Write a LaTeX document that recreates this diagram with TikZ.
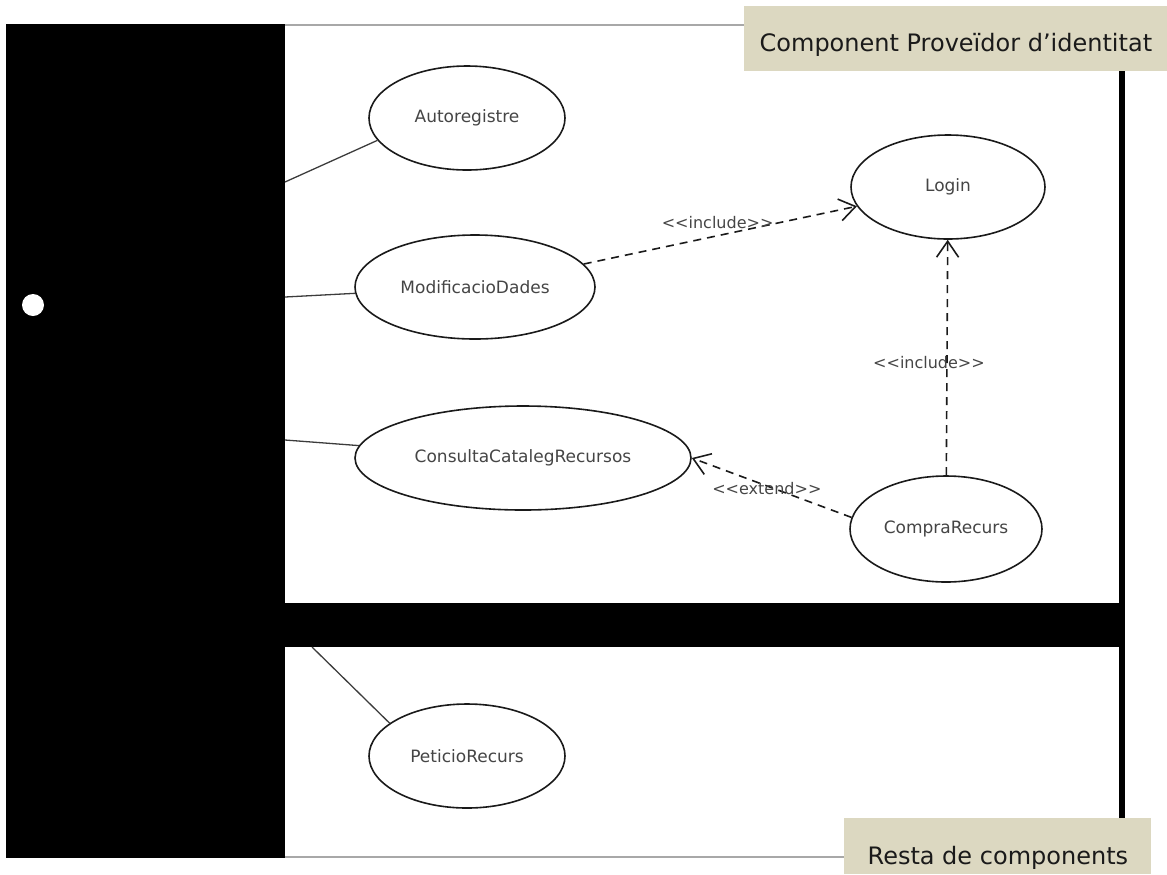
\documentclass[tikz,border=0pt]{standalone}
\usepackage{fontspec}
\usepackage{tikz}
\usetikzlibrary{arrows.meta,positioning,shapes}
\newfontfamily\dvfont{DejaVu Sans}
\definecolor{ink}{HTML}{1A1A1A}
\definecolor{inkgray}{HTML}{454545}
\definecolor{edgegray}{HTML}{A8A8A8}
\definecolor{tagbg}{HTML}{DCD8C1}
\tikzset{
  usecase/.style={ellipse,draw=ink,line width=0.8pt,fill=white,
                  minimum height=52pt,inner sep=0pt,
                  font=\dvfont\fontsize{8.5}{10}\selectfont,text=inkgray},
  assoc/.style={line width=0.65pt,color=ink!85},
  incl/.style={-{Straight Barb[length=8pt,width=11pt]},line width=0.8pt,
               dash pattern=on 4pt off 3pt,color=ink},
  stereo/.style={font=\dvfont\fontsize{8}{10}\selectfont,text=inkgray,inner sep=0pt},
  tagbox/.style={fill=tagbg,inner xsep=0pt,inner ysep=0pt,
                 font=\dvfont\fontsize{12}{14}\selectfont,text=ink}
}

\begin{document}
\begin{tikzpicture}[x=0.5pt,y=-0.5pt]
  \useasboundingbox (0,0) rectangle (1167,874);
  \fill[black] (6,24) rectangle (285,858);
  \fill[black] (285,603) rectangle (1125,647);
  \fill[black] (1119,71) rectangle (1125,818);
  \draw[edgegray,line width=0.6pt] (285,25) -- (744,25);
  \draw[edgegray,line width=0.6pt] (285,857) -- (844,857);
  \fill[white] (33,305) circle (5.5pt);

  \node[usecase,minimum width=98pt] (auto) at (467,118) {Autoregistre};
  \node[usecase,minimum width=97pt] (login) at (948,187) {Login};
  \node[usecase,minimum width=120pt] (modif) at (475,287) {ModificacioDades};
  \node[usecase,minimum width=168pt] (consulta) at (523,458) {ConsultaCatalegRecursos};
  \node[usecase,minimum width=96pt,minimum height=53pt] (compra) at (946,529) {CompraRecurs};
  \node[usecase,minimum width=98pt] (peticio) at (467,756) {PeticioRecurs};

  \coordinate (a1) at (285,182);
  \coordinate (a2) at (285,297);
  \coordinate (a3) at (285,440);
  \coordinate (a4) at (312,647);
  \draw[assoc] (a1) -- (auto.194);
  \draw[assoc] (a2) -- (modif);
  \draw[assoc] (a3) -- (consulta);
  \draw[assoc] (a4) -- (peticio.157);

  \draw[incl] (modif) -- node[stereo,pos=0.49,yshift=6.5pt] {<{}<include>{}>} (login);
  \draw[incl] (compra) -- node[stereo,pos=0.48,xshift=-9pt] {<{}<include>{}>} (login);
  \draw[incl] (compra.173) -- node[stereo,pos=0.53,yshift=-1.5pt] {<{}<extend>{}>} (consulta.east);

  \node[tagbox,minimum width=211.5pt,text height=22.3pt,text depth=10.2pt,anchor=north west]
    (tagtop) at (744,6) {Component Proveïdor d’identitat};
  \node[tagbox,minimum width=153.5pt,text height=23pt,text depth=5pt,anchor=north west]
    (tagbot) at (844,818) {Resta de components};
\end{tikzpicture}
\end{document}
